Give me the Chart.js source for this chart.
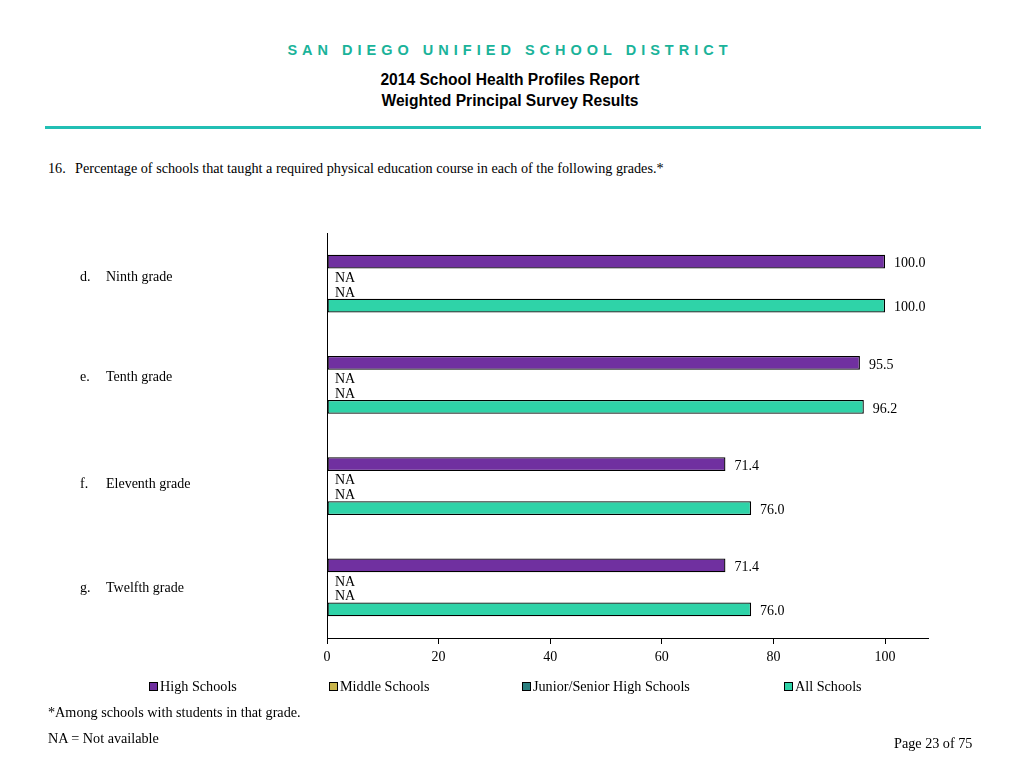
<!DOCTYPE html>
<html>
<head>
<meta charset="utf-8">
<script src="https://cdn.jsdelivr.net/npm/chart.js@4"></script>
<style>
  body { margin: 0; width: 1024px; height: 768px; position: relative; background: #fff; font-family: "Liberation Serif", serif; color: #000; overflow: hidden; }
  .abs { position: absolute; white-space: nowrap; }
  .head { left: 0; width: 1020px; text-align: center; font-family: "Liberation Sans", Arial, sans-serif; font-weight: bold; }
  #district { top: 42px; font-size: 14.5px; letter-spacing: 5px; color: #1ab39a; }
  #rule { left: 45px; top: 126px; width: 936px; height: 3px; background: #22bfb4; }
  .serif { font-size: 14.2px; }
  .leg { top: 678px; font-size: 14.2px; }
  .leg span { display: inline-block; width: 7px; height: 7px; border: 1px solid #000; margin-right: 2px; vertical-align: 0px; }
  canvas { position: absolute; left: 0; top: 0; }
</style>
</head>
<body>
<div class="abs head" id="district">SAN DIEGO UNIFIED SCHOOL DISTRICT</div>
<div class="abs head" style="top:71px;font-size:15.6px;">2014 School Health Profiles Report</div>
<div class="abs head" style="top:92px;font-size:15.6px;">Weighted Principal Survey Results</div>
<div class="abs" id="rule"></div>
<div class="abs serif" style="left:48px;top:160px;">16.</div>
<div class="abs serif" style="left:75px;top:160px;">Percentage of schools that taught a required physical education course in each of the following grades.*</div>

<div style="position:absolute;left:0;top:0;width:1024px;height:768px;">
  <canvas id="chart"></canvas>
</div>

<div class="abs leg" style="left:149px;"><span style="background:#7030a0"></span>High Schools</div>
<div class="abs leg" style="left:329px;"><span style="background:#c9b54c"></span>Middle Schools</div>
<div class="abs leg" style="left:522px;"><span style="background:#2a7f7f"></span>Junior/Senior High Schools</div>
<div class="abs leg" style="left:784px;"><span style="background:#2fd3a8"></span>All Schools</div>

<div class="abs serif" style="left:48px;top:704px;">*Among schools with students in that grade.</div>
<div class="abs serif" style="left:48px;top:730px;">NA = Not available</div>
<div class="abs serif" style="left:894px;top:735px;">Page 23 of 75</div>

<script>
const letters = ["d.", "e.", "f.", "g."];
const grades = ["Ninth grade", "Tenth grade", "Eleventh grade", "Twelfth grade"];
const highSchools = [100.0, 95.5, 71.4, 71.4];
const middleSchools = [null, null, null, null];
const juniorSenior = [null, null, null, null];
const allSchools = [100.0, 96.2, 76.0, 76.0];
const xTicks = [0, 20, 40, 60, 80, 100];

const seriesNames = ["High Schools", "Middle Schools", "Junior/Senior High Schools", "All Schools"];
const seriesColors = ["#7030a0", "#c9b54c", "#2a7f7f", "#2fd3a8"];
const seriesData = [highSchools, middleSchools, juniorSenior, allSchools];

const serif = '14px "Liberation Serif", serif';
// small nudges so the category text sits where the report put it
const labelShift = [-7, -9, -3, 0];

// value labels, NA text and the two-part category labels
const labelPlugin = {
  id: "labels",
  afterDatasetsDraw(chart) {
    const ctx = chart.ctx;
    ctx.save();
    ctx.font = serif;
    ctx.fillStyle = "#000";
    ctx.textBaseline = "middle";
    ctx.textAlign = "left";
    chart.data.datasets.forEach((ds, di) => {
      const meta = chart.getDatasetMeta(di);
      meta.data.forEach((bar, i) => {
        const v = ds.data[i];
        if (v === null) {
          ctx.fillText("NA", chart.chartArea.left + 8, bar.y + 2);
        } else {
          ctx.fillText(v.toFixed(1), bar.x + 9, bar.y + 2);
        }
      });
    });
    const yScale = chart.scales.y;
    grades.forEach((g, i) => {
      const y = yScale.getPixelForValue(i) + labelShift[i] + 1;
      ctx.fillText(letters[i], 80, y);
      ctx.fillText(g, 106, y);
    });
    ctx.restore();
  },
};

const canvas = document.getElementById("chart");
new Chart(canvas, {
  type: "bar",
  data: {
    labels: grades,
    datasets: seriesData.map((d, i) => ({
      label: seriesNames[i],
      data: d,
      backgroundColor: seriesColors[i],
      borderColor: "#000",
      borderWidth: 1.3,
      borderSkipped: false,
      categoryPercentage: 0.58,
      barPercentage: 0.95,
    })),
  },
  options: {
    indexAxis: "y",
    responsive: true,
    maintainAspectRatio: false,
    animation: false,
    layout: { padding: { left: 327, top: 233, right: 96, bottom: 100 } },
    plugins: {
      legend: { display: false },
      tooltip: { enabled: false },
    },
    scales: {
      x: {
        min: 0,
        max: 107.7,
        afterBuildTicks: (scale) => {
          scale.ticks = xTicks.map((v) => ({ value: v }));
        },
        afterFit: (scale) => { scale.height = 30; },
        border: { display: true, color: "#000", width: 1 },
        grid: { display: true, drawOnChartArea: false, drawTicks: true, tickLength: 6, color: "#000" },
        ticks: { color: "#000", font: { family: "Liberation Serif", size: 14 }, padding: 5, maxRotation: 0 },
      },
      y: {
        afterFit: (scale) => { scale.width = 0; },
        border: { display: true, color: "#000", width: 1 },
        grid: { display: false },
        ticks: { display: false },
      },
    },
  },
  plugins: [labelPlugin],
});
</script>
</body>
</html>
